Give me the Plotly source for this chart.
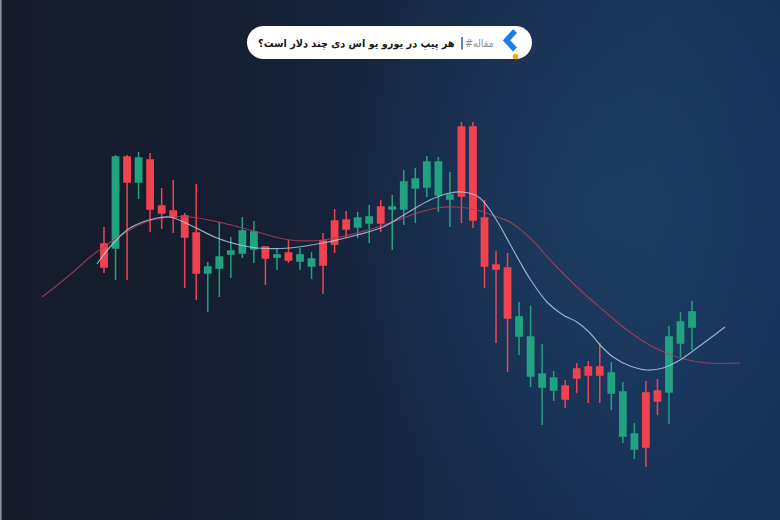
import plotly.graph_objects as go

# ---------------- data ----------------
bar_index = list(range(52))
open_ = [276, 272, 363, 338, 360, 314, 309, 304, 287, 247, 252, 266, 267, 271, 273, 263,
         267, 259, 254, 279, 299, 300, 293, 297, 313, 311, 311, 332, 333, 325, 321, 393,
         393, 302, 255, 252, 184, 144, 133, 130, 134, 151, 153, 153, 127, 84, 71, 127,
         129, 128, 177, 193]
high = [293, 365, 365, 368, 367, 332, 340, 307, 336, 258, 298, 283, 303, 299, 274, 272,
        280, 272, 268, 287, 311, 309, 308, 315, 320, 325, 350, 352, 364, 363, 348, 398,
        398, 320, 269, 267, 218, 214, 176, 149, 140, 157, 159, 177, 158, 138, 97, 139,
        141, 194, 208, 219]
low = [247, 240, 240, 321, 288, 291, 287, 232, 220, 208, 223, 242, 262, 257, 235, 250,
       257, 250, 241, 226, 267, 282, 282, 277, 288, 270, 295, 297, 323, 308, 293, 297,
       292, 232, 177, 148, 165, 133, 95, 119, 112, 127, 117, 117, 110, 77, 61, 53,
       105, 96, 163, 170]
close = [253, 363, 338, 362, 311, 307, 303, 283, 247, 253, 263, 269, 289, 288, 262, 265,
         260, 265, 261, 255, 276, 291, 302, 303, 297, 313, 338, 341, 358, 358, 325, 324,
         300, 254, 251, 202, 203, 183, 146, 142, 121, 142, 145, 145, 147, 128, 86, 73,
         119, 183, 198, 208]

# fast moving average (light line)
ma_fast_x = [-0.61, 0.52, 2.25, 4.60, 5.72, 7.46, 9.80, 11.80, 13.27, 16.13, 18.99, 21.94,
             24.20, 26.28, 28.27, 30.01, 31.13, 32.18, 32.61, 33.48, 34.35, 35.21, 36.08,
             36.95, 38.42, 39.81, 41.02, 42.15, 43.02, 44.15, 45.62, 47.09, 48.48, 49.96,
             51.43, 53.86]
ma_fast_y = [256, 273, 292, 302, 303, 295, 282, 275, 272, 272, 277, 285, 293, 307, 320, 327,
             328, 325, 322, 310, 294, 276, 258, 241, 218, 205, 198, 187, 175, 163, 154, 150,
             152, 160, 172, 193]

# slow moving average (red line)
ma_slow_x = [-5.38, -3.82, -2.08, -1.21, 1.13, 3.38, 5.12, 7.46, 10.32, 13.27, 16.13, 18.99,
             21.94, 24.80, 27.15, 28.88, 30.62, 32.35, 34.09, 35.21, 36.95, 38.94, 41.29,
             43.28, 45.36, 47.62, 49.96, 52.30, 55.16]
ma_slow_y = [223, 237, 254, 263, 282, 297, 302, 303, 297, 288, 280, 280, 287, 297, 307, 312,
             313, 310, 303, 298, 282, 257, 230, 210, 190, 173, 162, 157, 157]

title_main = "هر پیپ در یورو یو اس دی چند دلار است؟"
title_tag = "#مقاله"

# ---------------- styling ----------------
W, H = 780, 520
X0, X1 = -9.02, 58.63
Y0, Y1 = 0, 520
RED = "#f0434f"
GREEN = "#21a381"

fig = go.Figure()

# background (base subplot x/y, unit square)
fig.add_trace(go.Scatter(
    x=[0, 1, 1, 0, 0], y=[0, 0, 1, 1, 0], xaxis="x", yaxis="y",
    mode="lines", line=dict(width=0), fill="toself",
    fillgradient=dict(type="horizontal", start=0, stop=1,
                      colorscale=[[0, "#151b29"], [0.3, "#151f32"], [0.6, "#172a48"],
                                  [0.85, "#183258"], [1, "#17305a"]]),
    hoverinfo="skip", showlegend=False))
fig.add_trace(go.Scatter(
    x=[0.42, 1.12, 1.12, 0.42, 0.42], y=[-0.05, -0.05, 1.25, 1.25, -0.05],
    xaxis="x", yaxis="y",
    mode="lines", line=dict(width=0), fill="toself",
    fillgradient=dict(type="radial",
                      colorscale=[[0, "rgba(34,72,115,0.5)"], [1, "rgba(34,72,115,0)"]]),
    hoverinfo="skip", showlegend=False))

# chart (overlay subplot x2/y2, drawn above the background)
fig.add_trace(go.Candlestick(
    x=bar_index, open=open_, high=high, low=low, close=close, xaxis="x2", yaxis="y2",
    increasing=dict(line=dict(color=GREEN, width=1.5), fillcolor=GREEN),
    decreasing=dict(line=dict(color=RED, width=1.5), fillcolor=RED),
    whiskerwidth=0, hoverinfo="skip", showlegend=False))

fig.add_trace(go.Scatter(
    x=ma_slow_x, y=ma_slow_y, mode="lines", xaxis="x2", yaxis="y2",
    line=dict(color="rgba(175,62,88,0.85)", width=1.1, shape="spline"),
    hoverinfo="skip", showlegend=False))
fig.add_trace(go.Scatter(
    x=ma_fast_x, y=ma_fast_y, mode="lines", xaxis="x2", yaxis="y2",
    line=dict(color="rgba(170,200,220,0.85)", width=1.2, shape="spline"),
    hoverinfo="skip", showlegend=False))

pill = ("M 263.5,-26 L 515.5,-26 C 524.61,-26 532,-33.39 532,-42.5 "
        "C 532,-51.61 524.61,-59 515.5,-59 L 263.5,-59 "
        "C 254.39,-59 247,-51.61 247,-42.5 C 247,-33.39 254.39,-26 263.5,-26 Z")
px = dict(xref="paper", xsizemode="pixel", xanchor=0,
          yref="paper", ysizemode="pixel", yanchor=1)
shapes = [
    dict(type="path", path=pill, fillcolor="#ffffff", line=dict(width=0), layer="above", **px),
    dict(type="path", path="M 515,-31 L 506.5,-40.5 L 515,-49.5",
         line=dict(color="#1c7ce8", width=5.5), layer="above", **px),
    dict(type="circle", x0=512.7, x1=518.3, y0=-53.7, y1=-59.3, fillcolor="#f6a623",
         line=dict(width=0), layer="above", **px),
    dict(type="rect", x0=0, x1=1.6, y0=0, y1=-520, fillcolor="#8a93a3",
         line=dict(width=0), layer="above", **px),
]

FONT = "DejaVu Sans Condensed, DejaVu Sans"
ty = 1 - 43 / H
annotations = [
    dict(text="<b>" + title_main + "</b>", x=457 / W, y=ty, xref="paper", yref="paper",
         xanchor="right", yanchor="middle", showarrow=False,
         font=dict(family=FONT, size=10.8, color="#1a1a1a")),
    dict(text="<b>|</b>", x=462 / W, y=ty, xref="paper", yref="paper",
         xanchor="center", yanchor="middle", showarrow=False,
         font=dict(family=FONT, size=12, color="#333333")),
    dict(text=title_tag, x=496 / W, y=ty, xref="paper", yref="paper",
         xanchor="right", yanchor="middle", showarrow=False,
         font=dict(family=FONT, size=10.5, color="#8f8f8f")),
]

fig.update_layout(
    width=W, height=H, margin=dict(l=0, r=0, t=0, b=0),
    paper_bgcolor="#151c2b", plot_bgcolor="#151c2b",
    boxgap=0.22, showlegend=False, hovermode=False,
    shapes=shapes, annotations=annotations,
    xaxis=dict(range=[0, 1], visible=False, fixedrange=True,
               rangeslider=dict(visible=False)),
    yaxis=dict(range=[0, 1], visible=False, fixedrange=True),
    xaxis2=dict(range=[X0, X1], visible=False, overlaying="x", anchor="y2",
                rangeslider=dict(visible=False), fixedrange=True),
    yaxis2=dict(range=[Y0, Y1], visible=False, overlaying="y", anchor="x2",
                fixedrange=True),
)

fig.write_html("out.html", config={"displayModeBar": False},
               post_script="document.body.style.margin='0';")
